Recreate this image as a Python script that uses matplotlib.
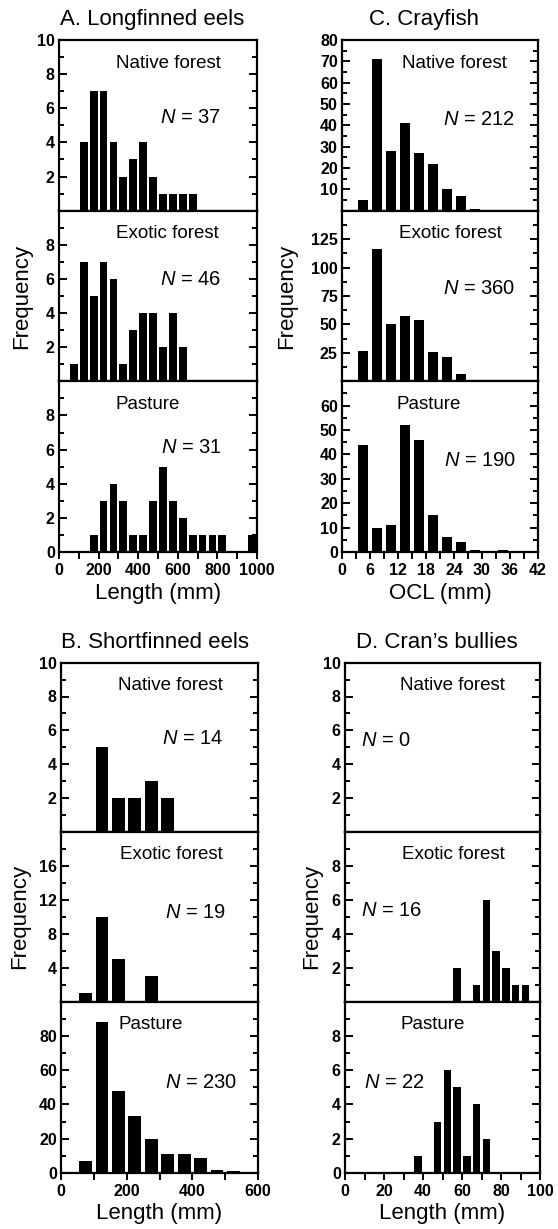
import matplotlib.pyplot as plt
from matplotlib.ticker import MultipleLocator

plt.rcParams['font.family'] = ['Liberation Sans', 'DejaVu Sans']
plt.rcParams['mathtext.fontset'] = 'custom'
plt.rcParams['mathtext.it'] = 'Liberation Sans:italic'
plt.rcParams['mathtext.rm'] = 'Liberation Sans'

habitats = ['Native forest', 'Exotic forest', 'Pasture']

# A. Longfinned eels, length bins of 50 mm (left edges)
a_bins = [0, 50, 100, 150, 200, 250, 300, 350, 400, 450,
          500, 550, 600, 650, 700, 750, 800, 850, 900, 950]
a_native = [0, 0, 4, 7, 7, 4, 2, 3, 4, 2, 1, 1, 1, 1, 0, 0, 0, 0, 0, 0]
a_exotic = [0, 1, 7, 5, 7, 6, 1, 3, 4, 4, 2, 4, 2, 0, 0, 0, 0, 0, 0, 0]
a_pasture = [0, 0, 0, 1, 3, 4, 3, 1, 1, 3, 5, 3, 2, 1, 1, 1, 1, 0, 0, 1]
a_n = [37, 46, 31]

# C. Crayfish, OCL bins of 3 mm
c_bins = [0, 3, 6, 9, 12, 15, 18, 21, 24, 27, 30, 33, 36, 39]
c_native = [0, 5, 71, 28, 41, 27, 22, 10, 7, 1, 0, 0, 0, 0]
c_exotic = [0, 27, 116, 50, 57, 54, 26, 21, 6, 1, 0, 1, 1, 0]
c_pasture = [0, 44, 10, 11, 52, 46, 15, 6, 4, 1, 0, 1, 0, 0]
c_n = [212, 360, 190]

# B. Shortfinned eels, bins of 50 mm
b_bins = [0, 50, 100, 150, 200, 250, 300, 350, 400, 450, 500, 550]
b_native = [0, 0, 5, 2, 2, 3, 2, 0, 0, 0, 0, 0]
b_exotic = [0, 1, 10, 5, 0, 3, 0, 0, 0, 0, 0, 0]
b_pasture = [0, 7, 88, 48, 33, 20, 11, 11, 9, 2, 1, 0]
b_n = [14, 19, 230]

# D. Cran's bullies, bins of 5 mm
d_bins = [0, 5, 10, 15, 20, 25, 30, 35, 40, 45,
          50, 55, 60, 65, 70, 75, 80, 85, 90, 95]
d_native = [0, 0, 0, 0, 0, 0, 0, 0, 0, 0, 0, 0, 0, 0, 0, 0, 0, 0, 0, 0]
d_exotic = [0, 0, 0, 0, 0, 0, 0, 0, 0, 0, 0, 2, 0, 1, 6, 3, 2, 1, 1, 0]
d_pasture = [0, 0, 0, 0, 0, 0, 0, 1, 0, 3, 6, 5, 1, 4, 2, 0, 0, 0, 0, 0]
d_n = [0, 16, 22]

W, H = 558, 1229
fig = plt.figure(figsize=(W / 100, H / 100), dpi=100)


def px_axes(left, right, top, bottom):
    return fig.add_axes([left / W, 1 - bottom / H, (right - left) / W, (bottom - top) / H])


panels = [
    dict(title='A. Longfinned eels', left=59, right=257, tops=[40, 210.7, 381.3, 552],
         bins=a_bins, width=50, counts=[a_native, a_exotic, a_pasture], n=a_n,
         xlim=(0, 1000), xstep=100, xlab=[0, 200, 400, 600, 800, 1000], xlabel='Length (mm)',
         ylims=[10, 10, 10], yticks=[[2, 4, 6, 8, 10], [2, 4, 6, 8], [0, 2, 4, 6, 8]], yminor=[1, 1, 1],
         hab_x=[0.555, 0.548, 0.45], n_pos=[(0.665, 0.546), (0.665, 0.596), (0.67, 0.61)],
         title_x=152, title_y=20, ylab_x=22, xlab_y=593),
    dict(title='C. Crayfish', left=342, right=538, tops=[40, 210.7, 381.3, 552],
         bins=c_bins, width=3, counts=[c_native, c_exotic, c_pasture], n=c_n,
         xlim=(0, 42), xstep=3, xlab=[0, 6, 12, 18, 24, 30, 36, 42], xlabel='OCL (mm)',
         ylims=[80, 150, 70], yticks=[[10, 20, 30, 40, 50, 60, 70, 80], [25, 50, 75, 100, 125],
                                       [0, 10, 20, 30, 40, 50, 60]], yminor=[5, 12.5, 5],
         hab_x=[0.576, 0.553, 0.443], n_pos=[(0.70, 0.534), (0.70, 0.546), (0.704, 0.535)],
         title_x=424, title_y=20, ylab_x=287, xlab_y=593),
    dict(title='B. Shortfinned eels', left=61, right=258, tops=[662.7, 831.7, 1001.7, 1173],
         bins=b_bins, width=50, counts=[b_native, b_exotic, b_pasture], n=b_n,
         xlim=(0, 600), xstep=100, xlab=[0, 200, 400, 600], xlabel='Length (mm)',
         ylims=[10, 20, 100], yticks=[[2, 4, 6, 8, 10], [4, 8, 12, 16], [0, 20, 40, 60, 80]],
         yminor=[1, 2, 10],
         hab_x=[0.557, 0.562, 0.456], n_pos=[(0.67, 0.554), (0.68, 0.524), (0.71, 0.53)],
         title_x=155, title_y=643, ylab_x=20, xlab_y=1213),
    dict(title='D. Cran\u2019s bullies', left=345, right=540, tops=[662.7, 831.7, 1001.7, 1173],
         bins=d_bins, width=5, counts=[d_native, d_exotic, d_pasture], n=d_n,
         xlim=(0, 100), xstep=10, xlab=[0, 20, 40, 60, 80, 100], xlabel='Length (mm)',
         ylims=[10, 10, 10], yticks=[[2, 4, 6, 8, 10], [2, 4, 6, 8], [0, 2, 4, 6, 8]], yminor=[1, 1, 1],
         hab_x=[0.55, 0.555, 0.45], n_pos=[(0.21, 0.54), (0.24, 0.535), (0.255, 0.53)],
         title_x=437, title_y=643, ylab_x=312, xlab_y=1213),
]

for p in panels:
    for i in range(3):
        ax = px_axes(p['left'], p['right'], p['tops'][i], p['tops'][i + 1])
        centres = [b + p['width'] / 2 for b in p['bins']]
        ax.bar(centres, p['counts'][i], width=p['width'] * 0.78, color='black', linewidth=0)
        ax.set_xlim(*p['xlim'])
        ax.set_ylim(0, p['ylims'][i])
        for s in ax.spines.values():
            s.set_linewidth(1.6)
        ax.set_yticks(p['yticks'][i])
        ax.yaxis.set_minor_locator(MultipleLocator(p['yminor'][i]))
        ax.tick_params(axis='y', which='both', direction='in', left=True, right=True, width=1.4)
        ax.tick_params(axis='y', which='major', length=6)
        ax.tick_params(axis='y', which='minor', length=3.5)
        ax.tick_params(axis='y', labelsize=11.5, pad=3)
        ax.xaxis.set_major_locator(MultipleLocator(p['xstep']))
        ax.tick_params(axis='x', which='major', direction='out', length=5, width=1.4,
                       labelsize=11.5, pad=3)
        if i == 2:
            ax.set_xticklabels([str(int(round(v))) if abs(v - round(v)) < 1e-6 and int(round(v)) in p['xlab']
                                else '' for v in ax.get_xticks()])
        else:
            ax.set_xticklabels([])
        for lab in ax.get_xticklabels() + ax.get_yticklabels():
            lab.set_fontweight('bold')
        ax.text(p['hab_x'][i], 0.865, habitats[i], transform=ax.transAxes,
                ha='center', va='center', fontsize=13.5)
        nx, ny = p['n_pos'][i]
        ax.text(nx, ny, '$N$ = %d' % p['n'][i], transform=ax.transAxes,
                ha='center', va='center', fontsize=14.5)
    fig.text(p['title_x'] / W, 1 - p['title_y'] / H, p['title'], ha='center', va='center', fontsize=16)
    mid = (p['tops'][1] + p['tops'][2]) / 2
    fig.text(p['ylab_x'] / W, 1 - mid / H, 'Frequency', rotation=90, ha='center', va='center',
             fontsize=16)
    cx = (p['left'] + p['right']) / 2
    fig.text(cx / W, 1 - p['xlab_y'] / H, p['xlabel'], ha='center', va='center', fontsize=16)

fig.savefig('out.png', dpi=100)
